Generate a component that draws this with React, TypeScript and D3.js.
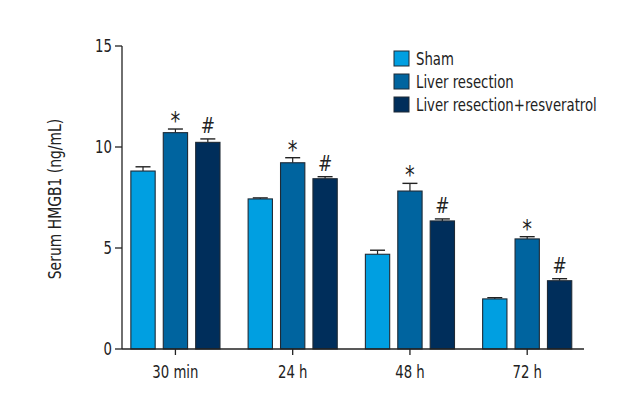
import React from "react";
import * as d3 from "d3";

const categories = ["30 min", "24 h", "48 h", "72 h"];
const seriesNames = ["Sham", "Liver resection", "Liver resection+resveratrol"];
const seriesColors = ["#009fe1", "#00649f", "#002e5b"];
const shamValues = [8.81, 7.43, 4.69, 2.48];
const shamErrors = [0.21, 0.05, 0.2, 0.06];
const lrValues = [10.71, 9.22, 7.82, 5.45];
const lrErrors = [0.18, 0.25, 0.38, 0.11];
const lrrValues = [10.23, 8.43, 6.34, 3.38];
const lrrErrors = [0.17, 0.1, 0.1, 0.1];
const marks = ["", "*", "#"];
const yTicks = [0, 5, 10, 15];

const FONT = "'DejaVu Sans Condensed', 'DejaVu Sans', sans-serif";
const SQ = 0.82;

function T(props: { x: number; y: number; size: number; anchor?: string; rot?: number; sx?: number; dy?: string; children: React.ReactNode }) {
  const { x, y, size, anchor = "start", rot = 0, sx = SQ, dy = "0", children } = props;
  return (
    <text transform={`translate(${x},${y}) rotate(${rot}) scale(${sx},1)`} textAnchor={anchor}
      fontSize={size} dy={dy} fill="#222" fontFamily={FONT}>{children}</text>
  );
}

export default function App() {
  const W = 640, H = 420;
  const x0 = 122, x1 = 584, yTop = 46, yBot = 349;
  const x = d3.scaleBand<string>().domain(categories).range([x0, x1])
    .paddingInner(0.24).paddingOuter(0.09).align(0.42);
  const xi = d3.scaleBand<string>().domain(seriesNames).range([0, x.bandwidth()])
    .paddingInner(0.25).paddingOuter(0);
  const y = d3.scaleLinear().domain([0, 15]).range([yBot, yTop]);
  const values = [shamValues, lrValues, lrrValues];
  const errors = [shamErrors, lrErrors, lrrErrors];
  const capW = 15;

  return (
    <svg width={W} height={H} style={{ position: "absolute", left: 0, top: 0, background: "#fff" }}>
      <rect x={0} y={0} width={W} height={H} fill="#fff" />
      {categories.map((c, ci) => (
        <g key={c}>
          {seriesNames.map((s, si) => {
            const v = values[si][ci];
            const e = errors[si][ci];
            const bx = (x(c) as number) + (xi(s) as number);
            const bw = xi.bandwidth();
            const cx = bx + bw / 2;
            return (
              <g key={s}>
                <line x1={cx} x2={cx} y1={y(v)} y2={y(v + e)} stroke="#222" strokeWidth={1.2} />
                <line x1={cx - capW / 2} x2={cx + capW / 2} y1={y(v + e)} y2={y(v + e)} stroke="#222" strokeWidth={1.4} />
                <rect x={bx} y={y(v)} width={bw} height={y(0) - y(v)} fill={seriesColors[si]}
                  stroke="#1e2a36" strokeWidth={1.1} />
                {marks[si] && (
                  <T x={cx} y={y(v + e) - (marks[si] === "*" ? 0 : 6)} anchor="middle"
                    size={marks[si] === "*" ? 24 : 21} sx={0.9}>{marks[si]}</T>
                )}
              </g>
            );
          })}
        </g>
      ))}
      <line x1={x0} x2={x0} y1={yTop} y2={yBot} stroke="#222" strokeWidth={1.3} />
      {yTicks.map((t) => (
        <g key={t}>
          <line x1={x0 - 7} x2={x0} y1={y(t)} y2={y(t)} stroke="#222" strokeWidth={1.3} />
          <T x={x0 - 10} y={y(t)} dy="0.36em" anchor="end" size={18}>{t}</T>
        </g>
      ))}
      <line x1={x0} x2={x1} y1={yBot} y2={yBot} stroke="#222" strokeWidth={1.3} />
      {categories.map((c) => {
        const cx = (x(c) as number) + x.bandwidth() / 2;
        return (
          <g key={c}>
            <line x1={cx} x2={cx} y1={yBot} y2={yBot + 6} stroke="#222" strokeWidth={1.3} />
            <T x={cx} y={yBot + 29} anchor="middle" size={18}>{c}</T>
          </g>
        );
      })}
      <T x={61} y={199} rot={-90} anchor="middle" size={18} sx={0.86}>Serum HMGB1 (ng/mL)</T>
      {seriesNames.map((s, i) => (
        <g key={s}>
          <rect x={394} y={51 + i * 23} width={15} height={15} fill={seriesColors[i]} stroke="#1e2a36" strokeWidth={1} />
          <T x={416} y={59 + i * 23} dy="0.36em" size={18}>{s}</T>
        </g>
      ))}
    </svg>
  );
}
